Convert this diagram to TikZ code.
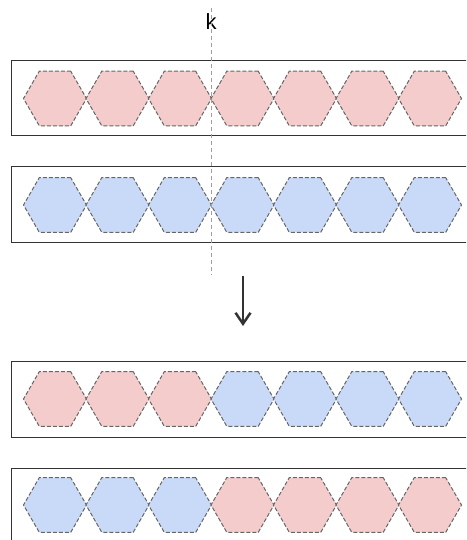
\documentclass[tikz,border=0pt]{standalone}
\usepackage{fontspec}
\setsansfont{Liberation Sans}
\usetikzlibrary{arrows.meta,positioning,shapes.geometric}
\definecolor{cellpink}{HTML}{F4CCCC}
\definecolor{cellblue}{HTML}{C9DAF8}
\definecolor{edgegray}{HTML}{666666}
\definecolor{framegray}{HTML}{333333}
\tikzset{
  cell/.style={
    regular polygon,
    regular polygon sides=6,
    minimum size=63pt,
    inner sep=0pt,
    draw=edgegray,
    dash pattern=on 4pt off 2pt,
    line width=1pt
  },
  pinkcell/.style={cell, fill=cellpink},
  bluecell/.style={cell, fill=cellblue},
  frame/.style={
    draw=framegray,
    line width=1pt
  },
  cutline/.style={
    draw=gray!75,
    dash pattern=on 4pt off 3pt,
    line width=1pt
  },
  arrow/.style={
    -{Straight Barb[length=11pt,width=15pt,line width=2.5pt]},
    line width=2.5pt,
    framegray
  }
}

\begin{document}
\begin{tikzpicture}[x=1pt,y=-1pt]
\useasboundingbox (0,0) rectangle (466,540);
\clip (0,0) rectangle (466,540);
% frames of the four rows
\draw[frame] (11,61) rectangle (490,136);
\draw[frame] (11,167) rectangle (490,242);
\draw[frame] (11,361) rectangle (490,437);
\draw[frame] (11,468) rectangle (490,560);
% rows before the swap
\foreach \i in {0,...,6} {
  \node[pinkcell] (p\i) at (55+62.5*\i,98.5) {};
  \node[bluecell] (b\i) at (55+62.5*\i,205) {};
}
% rows after the swap
\foreach \i in {0,1,2} {
  \node[pinkcell] (pp\i) at (55+62.5*\i,399) {};
  \node[bluecell] (bb\i) at (55+62.5*\i,505) {};
}
\foreach \i in {3,...,6} {
  \node[bluecell] (pp\i) at (55+62.5*\i,399) {};
  \node[pinkcell] (bb\i) at (55+62.5*\i,505) {};
}
% cut point
\node[font=\sffamily\fontsize{22}{26}\selectfont] (k) at (211,22) {k};
\coordinate (ktop) at (211,8);
\coordinate (kbot) at (211,275);
\draw[cutline] (ktop) -- (kbot);
% swap arrow
\coordinate (from) at (243,276);
\coordinate (to) at (243,326);
\draw[arrow] (from) -- (to);
\end{tikzpicture}
\end{document}
